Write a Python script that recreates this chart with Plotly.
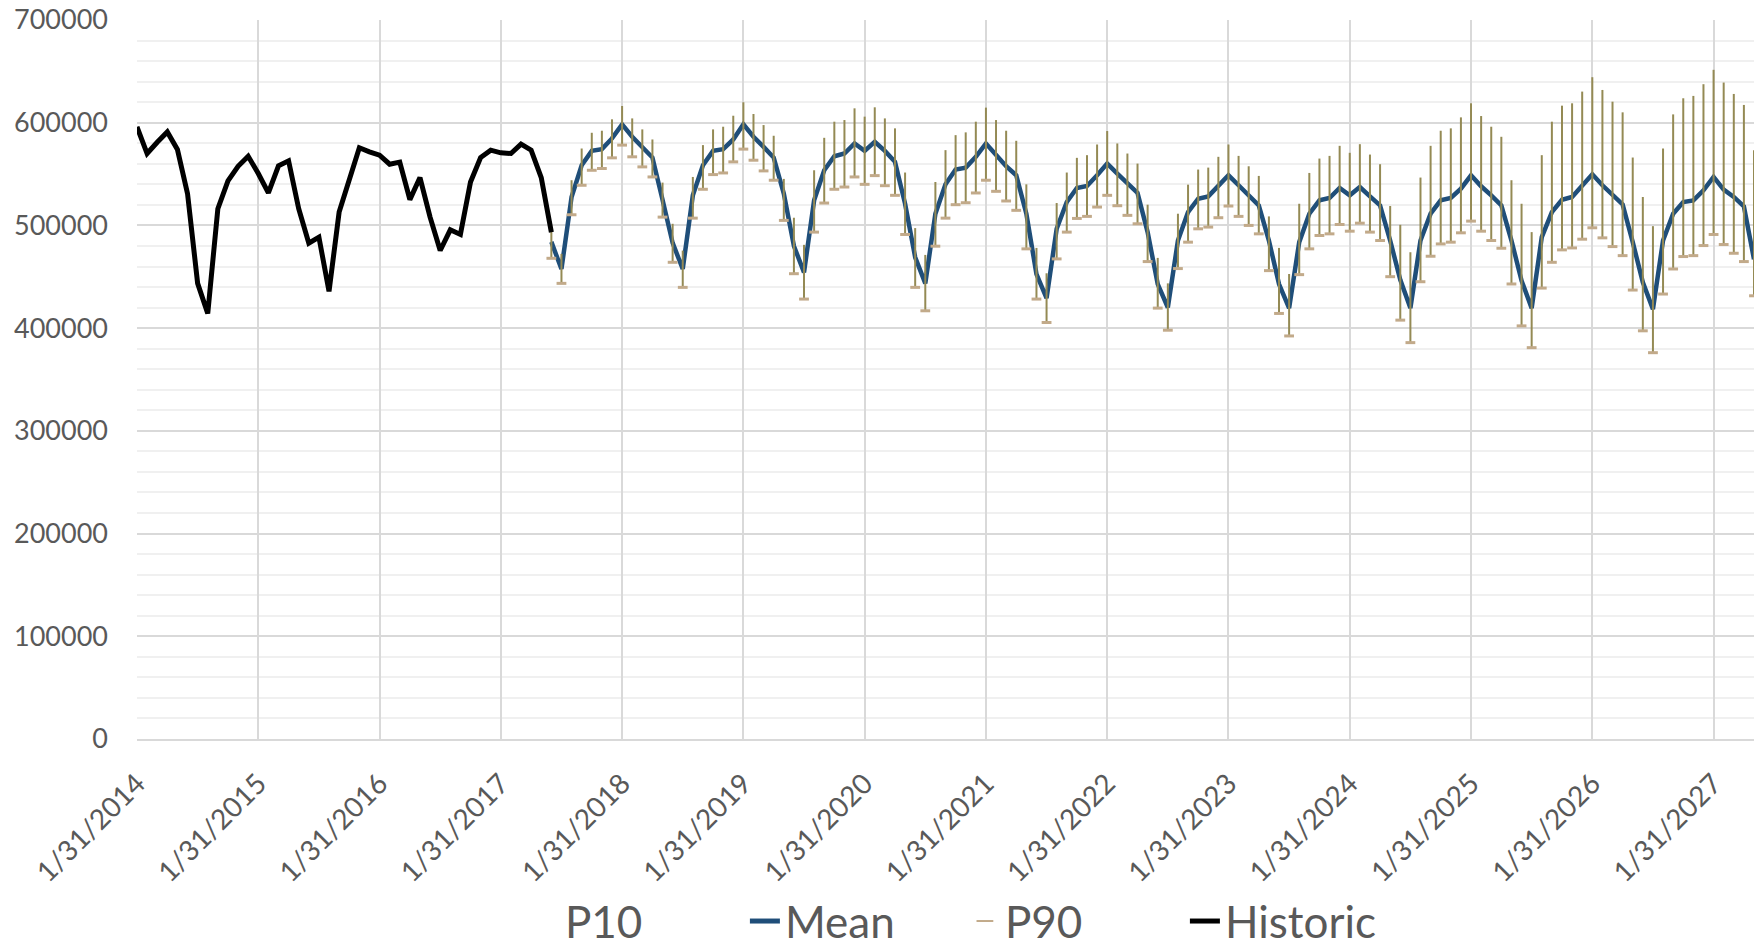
import pandas as pd
import plotly.graph_objects as go

FONT = "Lato, 'Open Sans', sans-serif"
TEXT_COLOR = "#595959"
GRID_COLOR = "#d9d9d9"

# maandeinden 1/31/2014 .. 5/31/2027 (categorie-as zoals in Excel)
months = pd.date_range("2014-01-31", periods=161, freq="ME")
month_labels = [f"{d.month}/{d.day}/{d.year}" for d in months]
year_ticks = [lbl for d, lbl in zip(months, month_labels) if d.month == 1]

historic = [
    596000, 570000, 581000, 591000, 574000, 531000, 443600, 414300, 516300, 543300,
    557600, 567400, 550500, 531600, 558000, 562900, 516300, 482700, 488600, 435800,
    513000, 544000, 575600, 571700, 568400, 559600, 561600, 525100, 546600, 508100,
    475600, 495700, 491200, 542300, 566100, 573300, 570700, 570000, 579100, 573300,
    546600, 493400,
]

# prognose start bij de laatste historische maand (6/30/2017)
forecast_start = 41

mean = [
    484000, 457600, 527700, 558600, 572600, 574300, 584700, 598400, 586300, 576500,
    566100, 525000, 483000, 457600, 529300, 558600, 572600, 574300, 583700, 598400,
    586300, 576500, 566100, 531000, 480000, 454300, 524400, 553700, 567400, 570000,
    579800, 572600, 581400, 572600, 561900, 521100, 469000, 443600, 511400, 540000,
    554400, 556300, 566800, 579800, 568400, 557600, 548800, 511400, 452700, 429300,
    496700, 522800, 536500, 538400, 548800, 560200, 550500, 540700, 531600, 493500,
    442900, 420100, 485300, 513000, 526000, 528300, 538100, 548800, 539100, 529300,
    519500, 485300, 442900, 419500, 483700, 511400, 524400, 526700, 536500, 529300,
    537400, 528300, 519500, 485300, 447000, 419500, 485300, 511400, 524400, 526700,
    535800, 548800, 538100, 529300, 519500, 485300, 446200, 419500, 488600, 513000,
    525000, 527700, 538100, 549800, 539100, 529300, 520500, 483700, 444600, 418500,
    485300, 511400, 522800, 524400, 534200, 547200, 534800, 527700, 518500, 467000,
]

p10 = [
    498000, 472300, 544000, 574900, 590200, 592200, 603300, 616300, 604200, 593500,
    583700, 541700, 501600, 475500, 547200, 578200, 593500, 596100, 606800, 619900,
    608500, 597700, 587300, 545300, 507500, 481100, 553700, 585300, 601000, 602600,
    614000, 605900, 615000, 604200, 594500, 551500, 497400, 471300, 542300, 573300,
    587900, 590600, 601000, 614700, 602600, 592200, 582400, 540000, 478100, 453400,
    521800, 551500, 565800, 568400, 578800, 591900, 579800, 570000, 560200, 520200,
    468400, 443600, 511400, 539700, 554400, 556300, 566800, 578800, 567700, 557600,
    548200, 508800, 478100, 452700, 521100, 551100, 565100, 567700, 577500, 570700,
    579100, 569000, 559600, 518900, 500600, 473900, 546600, 577500, 592200, 594500,
    605200, 618900, 606500, 596100, 586300, 544000, 521100, 493500, 568400, 601000,
    616600, 618900, 630300, 644300, 631900, 620500, 610100, 566100, 527700, 499300,
    574900, 608100, 623800, 626100, 637500, 651500, 639100, 628000, 617300, 573300,
]

p90 = [
    468000, 443600, 510400, 539100, 553700, 555400, 565800, 578200, 566800, 557000,
    547200, 508100, 464100, 439700, 507100, 535200, 549500, 551100, 561900, 574300,
    563500, 553100, 544000, 504900, 453000, 428300, 493500, 521800, 535200, 537400,
    547200, 540000, 548500, 538700, 529300, 491200, 439700, 416900, 479800, 507100,
    520200, 522100, 531600, 544000, 533200, 523800, 514700, 477200, 428300, 405500,
    467400, 493500, 506800, 508800, 517900, 529300, 519200, 509800, 501600, 464800,
    419500, 398000, 458000, 483700, 496700, 498400, 507500, 518900, 508800, 500000,
    491800, 456000, 414300, 392400, 452100, 477200, 490200, 491800, 500900, 494400,
    502200, 493500, 485300, 450100, 407800, 385900, 445200, 470000, 482000, 483700,
    492800, 504200, 494400, 485300, 477800, 443000, 402200, 381000, 439000, 464100,
    476200, 478100, 486600, 497700, 487900, 479400, 470600, 437100, 397400, 376100,
    433200, 457600, 469700, 470600, 480400, 491200, 481400, 472900, 464800, 431500,
]

x_hist = month_labels[: len(historic)]
x_fc = month_labels[forecast_start: forecast_start + len(mean)]

fig = go.Figure()
fig.add_trace(
    go.Scatter(
        x=x_fc, y=p10, mode="markers", name="P10",
        marker=dict(size=2, color="rgba(0,0,0,0)"),
    )
)
fig.add_trace(
    go.Scatter(
        x=x_fc, y=mean, mode="lines", name="Mean",
        line=dict(color="#1f4e79", width=4.5),
    )
)
fig.add_trace(
    go.Scatter(
        x=x_fc, y=p90, mode="markers", name="P90",
        marker=dict(symbol="line-ew", size=7, line=dict(color="#c2aa8a", width=3)),
        error_y=dict(
            type="data", symmetric=False,
            array=[hi - lo for hi, lo in zip(p10, p90)],
            arrayminus=[0] * len(p90),
            color="#948a54", thickness=2, width=0,
        ),
    )
)
fig.add_trace(
    go.Scatter(
        x=x_hist, y=historic, mode="lines", name="Historic",
        line=dict(color="black", width=5),
    )
)

fig.update_layout(
    width=1759, height=947,
    template="plotly_white",
    plot_bgcolor="white", paper_bgcolor="white",
    font=dict(family=FONT, color=TEXT_COLOR),
    margin=dict(l=137, r=5, t=20, b=208, pad=0),
    showlegend=True,
    legend=dict(
        orientation="h", x=0.512, xanchor="center",
        yref="container", y=0.027, yanchor="middle",
        font=dict(size=44, color=TEXT_COLOR, family=FONT),
        entrywidth=175, entrywidthmode="pixels",
        itemsizing="constant",
    ),
    xaxis=dict(
        type="category", categoryorder="array", categoryarray=month_labels,
        tickmode="array", tickvals=year_ticks, ticktext=year_ticks,
        tickangle=-45, range=[0, len(month_labels) - 1],
        showgrid=True, gridcolor=GRID_COLOR, gridwidth=1.5,
        showline=True, linecolor=GRID_COLOR, linewidth=2,
        zeroline=False, ticks="", automargin=False,
        tickfont=dict(size=28, color=TEXT_COLOR),
        ticklabelstandoff=15,
    ),
    yaxis=dict(
        range=[0, 700000], tick0=0, dtick=100000, tickformat="d",
        showgrid=True, gridcolor=GRID_COLOR, gridwidth=1.5,
        minor=dict(dtick=20000, showgrid=True, gridcolor="#f0f0f0", gridwidth=1.5),
        zeroline=False, showline=False, ticks="", automargin=False,
        tickfont=dict(size=27, color=TEXT_COLOR),
        ticklabelstandoff=28,
    ),
)

fig.write_html(
    "out.html",
    config={"displayModeBar": False},
    post_script="document.body.style.margin='0';",
)
